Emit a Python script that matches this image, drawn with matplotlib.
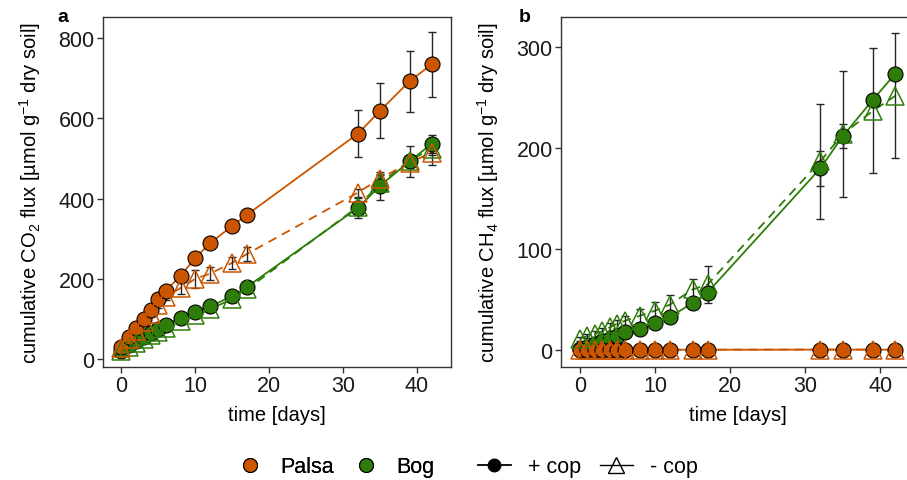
import matplotlib
matplotlib.use("Agg")
import matplotlib.pyplot as plt
from matplotlib.lines import Line2D

plt.rcParams['font.family'] = ['Liberation Sans', 'DejaVu Sans']
plt.rcParams['mathtext.fontset'] = 'custom'
plt.rcParams['mathtext.rm'] = 'Liberation Sans'
plt.rcParams['mathtext.it'] = 'Liberation Sans:italic'
plt.rcParams['mathtext.default'] = 'regular'

# ---------------- data ----------------
days = [0, 1, 2, 3, 4, 5, 6, 8, 10, 12, 15, 17, 32, 35, 39, 42]

# CO2 (panel a)
co2_palsa_cop = [30, 55, 77, 100, 123, 150, 170, 208, 252, 289, 332, 360, 562, 619, 693, 735]
co2_palsa_cop_err = [3, 3, 4, 4, 5, 5, 6, 6, 7, 7, 8, 8, 59, 69, 76, 81]
co2_palsa_nocop = [28, 49, 70, 92, 113, 135, 155, 177, 200, 213, 240, 262, 415, 450, 490, 515]
co2_palsa_nocop_err = [2, 3, 4, 5, 6, 7, 9, 15, 22, 17, 15, 17, 10, 12, 10, 30]
co2_bog_cop = [21, 35, 46, 56, 66, 75, 86, 102, 118, 131, 157, 180, 377, 432, 493, 537]
co2_bog_cop_err = [2, 2, 2, 3, 3, 3, 4, 5, 6, 6, 10, 12, 25, 35, 38, 22]
co2_bog_nocop = [19, 31, 41, 51, 60, 68, 78, 94, 110, 124, 150, 174, 380, 438, 495, 525]
co2_bog_nocop_err = [2, 2, 3, 3, 3, 4, 4, 5, 6, 6, 8, 10, 15, 20, 15, 15]

# CH4 (panel b)
ch4_palsa_cop = [0.1, 0.1, 0.1, 0.2, 0.2, 0.2, 0.2, 0.2, 0.3, 0.3, 0.3, 0.3, 0.4, 0.4, 0.4, 0.4]
ch4_palsa_cop_err = [0.1] * 16
ch4_palsa_nocop = [0.1, 0.1, 0.2, 0.2, 0.2, 0.3, 0.3, 0.3, 0.3, 0.4, 0.4, 0.4, 0.5, 0.5, 0.5, 0.5]
ch4_palsa_nocop_err = [0.1] * 16
ch4_bog_cop = [1, 3.5, 6, 8.5, 11, 14, 17.5, 21, 26.5, 33, 46.5, 57, 180, 212, 248, 274]
ch4_bog_cop_err = [0.5, 1, 1, 1.5, 2, 2, 3, 3, 4, 5, 6, 5, 17, 12, 4, 4]
ch4_bog_nocop = [11, 14, 16, 18.5, 22.5, 26, 29, 34, 39, 45, 60, 65, 187, 214, 237, 252]
ch4_bog_nocop_err = [2, 2, 3, 3, 4, 4, 5, 7, 9, 10, 10, 18, 57, 62, 62, 62]

soils = ["Palsa", "Bog"]
treatments = ["+ cop", "- cop"]

# ---------------- style ----------------
ORANGE = "#CC5500"
GREEN = "#2E7D0A"
ERRC = "#262626"
W, H = 907, 481
fig = plt.figure(figsize=(W / 100, H / 100), dpi=100)


def px_axes(left, top, right, bottom):
    return fig.add_axes([left / W, 1 - bottom / H, (right - left) / W, (bottom - top) / H])


ax_a = px_axes(103, 18, 451, 368)
ax_b = px_axes(561, 18, 915, 368)


def draw_panel(ax, series):
    for y, e, c, t in series:
        ls = '-' if t == "+ cop" else (0, (5, 3.5))
        ax.plot(days, y, color=c, lw=1.3, ls=ls, zorder=1)
    for y, e, c, t in series:
        ax.errorbar(days, y, yerr=e, fmt='none', ecolor=ERRC, elinewidth=1.0,
                    capsize=3, capthick=1.0, zorder=2)
    for y, e, c, t in series:
        if t == "+ cop":
            ax.plot(days, y, ls='none', marker='o', ms=10.8, mfc=c, mec='black',
                    mew=0.8, zorder=3)
        else:
            ax.plot(days, y, ls='none', marker='^', ms=13.5, mfc='none', mec=c,
                    mew=1.1, zorder=4)


draw_panel(ax_a, [
    (co2_bog_cop, co2_bog_cop_err, GREEN, "+ cop"),
    (co2_bog_nocop, co2_bog_nocop_err, GREEN, "- cop"),
    (co2_palsa_cop, co2_palsa_cop_err, ORANGE, "+ cop"),
    (co2_palsa_nocop, co2_palsa_nocop_err, ORANGE, "- cop"),
])
draw_panel(ax_b, [
    (ch4_bog_cop, ch4_bog_cop_err, GREEN, "+ cop"),
    (ch4_bog_nocop, ch4_bog_nocop_err, GREEN, "- cop"),
    (ch4_palsa_cop, ch4_palsa_cop_err, ORANGE, "+ cop"),
    (ch4_palsa_nocop, ch4_palsa_nocop_err, ORANGE, "- cop"),
])

for ax in (ax_a, ax_b):
    ax.set_xlim(-2.5, 44.6)
    ax.set_xticks([0, 10, 20, 30, 40])
    for s in ax.spines.values():
        s.set_color("#333333")
        s.set_linewidth(1.0)
    ax.tick_params(axis='both', direction='out', length=4, width=1.0,
                   color="#333333", labelsize=15.5, labelcolor='#1a1a1a', pad=2)
    ax.set_xlabel("time [days]", fontsize=14.5, labelpad=6)

ax_a.set_ylim(-20, 853)
ax_a.set_yticks([0, 200, 400, 600, 800])
ax_b.set_ylim(-16.8, 330)
ax_b.set_yticks([0, 100, 200, 300])

ax_a.set_ylabel("cumulative CO$_2$ flux [µmol g$^{-1}$ dry soil]", fontsize=14.5, labelpad=11)
ax_b.set_ylabel("cumulative CH$_4$ flux [µmol g$^{-1}$ dry soil]", fontsize=14.5, labelpad=11)

fig.text(57 / W, 1 - 17 / H, "a", fontsize=14, fontweight='bold', ha='left', va='center')
fig.text(519 / W, 1 - 17 / H, "b", fontsize=14, fontweight='bold', ha='left', va='center')

# ---------------- legends ----------------
soil_handles = [
    Line2D([], [], ls='none', marker='o', ms=10, mfc=ORANGE, mec='black', mew=0.8),
    Line2D([], [], ls='none', marker='o', ms=10, mfc=GREEN, mec='black', mew=0.8),
]
leg1 = fig.legend(soil_handles, soils, loc='center', bbox_to_anchor=(337 / W, 1 - 468 / H),
                  ncol=2, frameon=False, fontsize=15.5, handlelength=1.0,
                  handletextpad=0.9, columnspacing=1.0)
treat_handles = [
    Line2D([], [], color='black', lw=1.3, marker='o', ms=9, mfc='black', mec='black'),
    Line2D([], [], color='black', lw=1.0, marker='^', ms=11, mfc='none', mec='black', mew=1.0),
]
leg2 = fig.legend(treat_handles, treatments, loc='center', bbox_to_anchor=(588 / W, 1 - 468 / H),
                  ncol=2, frameon=False, fontsize=15.5, handlelength=1.5,
                  handletextpad=0.8, columnspacing=0.9)
fig.add_artist(leg1)

fig.savefig("out.png", dpi=100)
